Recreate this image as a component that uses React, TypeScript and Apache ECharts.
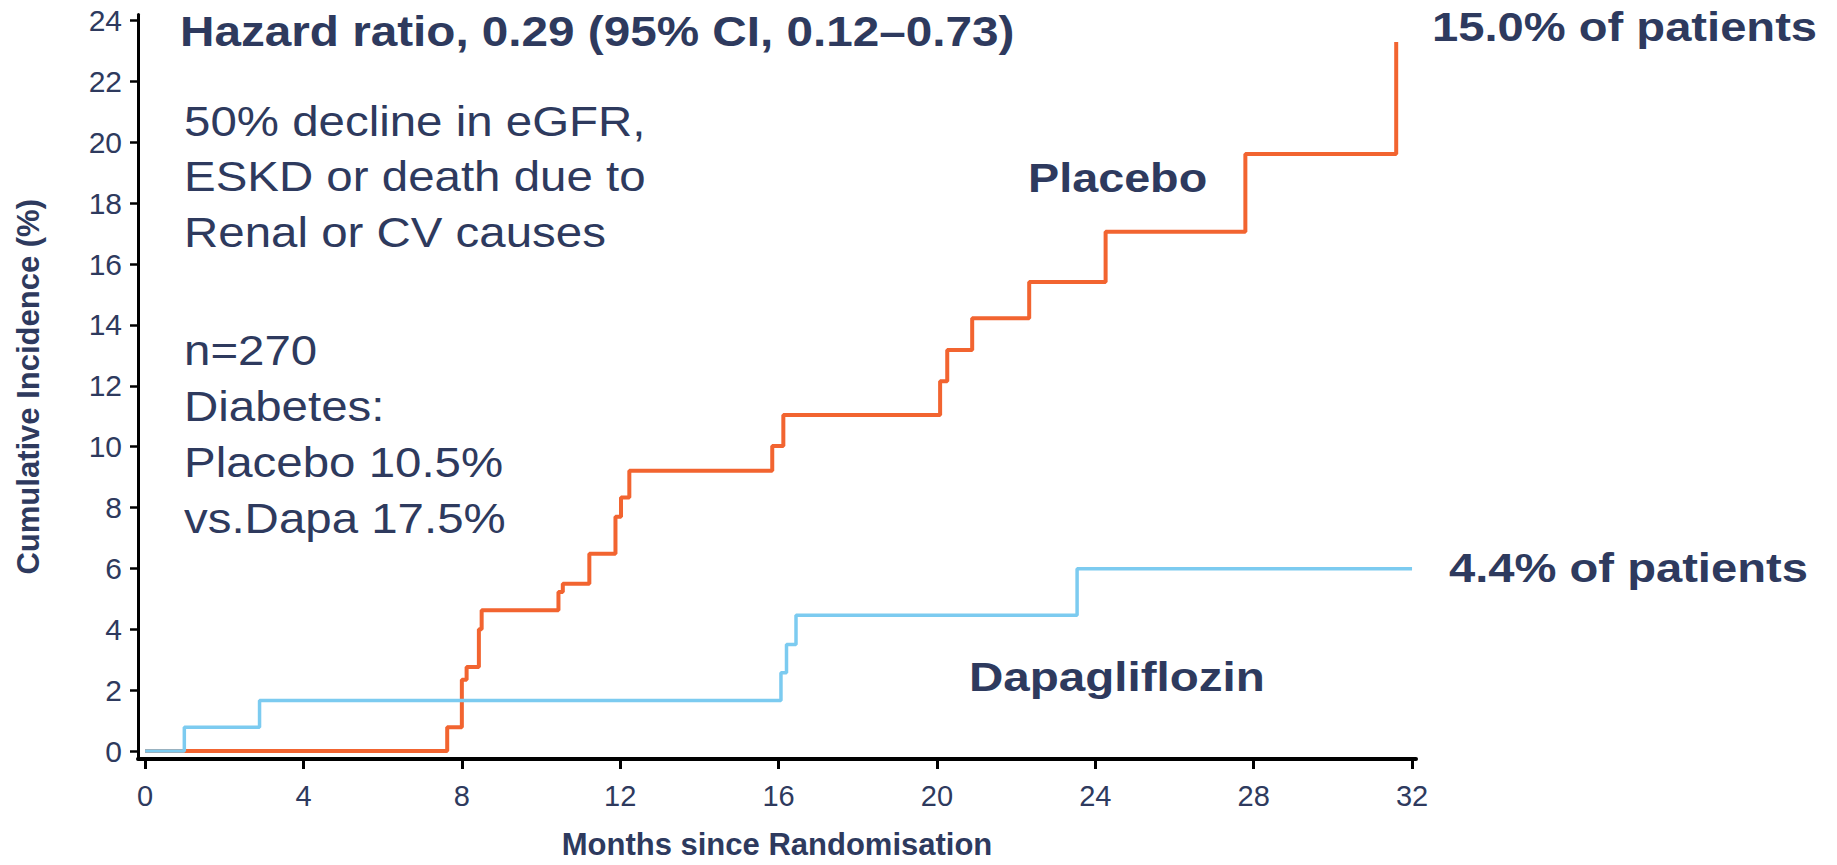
import React, { useEffect, useRef } from "react";
import * as echarts from "echarts";

// ---- data (months, cumulative incidence %) ----
const placeboTimes = [0, 7.63, 8.0, 8.12, 8.43, 8.5, 10.44, 10.55, 11.22, 11.88, 12.02, 12.23, 15.84, 16.12, 20.08, 20.26, 20.89, 22.33, 24.26, 27.79, 31.6];
const placeboValues = [0, 0.78, 2.34, 2.76, 4.0, 4.63, 5.23, 5.5, 6.48, 7.7, 8.33, 9.21, 10.02, 11.04, 12.15, 13.18, 14.22, 15.41, 17.06, 19.62, 23.3];
const dapaTimes = [0, 0.99, 2.89, 16.06, 16.2, 16.44, 23.54, 32];
const dapaValues = [0, 0.78, 1.66, 2.57, 3.5, 4.46, 5.99, 5.99];
const xTicks = [0, 4, 8, 12, 16, 20, 24, 28, 32];
const yTicks = [0, 2, 4, 6, 8, 10, 12, 14, 16, 18, 20, 22, 24];

const titleText = "Hazard ratio, 0.29 (95% CI, 0.12\u20130.73)";
const blockLines1 = ["50% decline in eGFR,", "ESKD or death due to", "Renal or CV causes"];
const blockLines2 = ["n=270", "Diabetes:", "Placebo 10.5%", "vs.Dapa 17.5%"];
const placeboLabel = "Placebo";
const dapaLabel = "Dapagliflozin";
const placeboEnd = "15.0% of patients";
const dapaEnd = "4.4% of patients";

const NAVY = "#2E3A5E";
const ORANGE = "#F26430";
const BLUE = "#7CCBF0";
const FONT = "'Liberation Sans', Arial, Helvetica, sans-serif";

function txt(text: string, x: number, y: number, size: number, bold: boolean, sx: number) {
  return {
    type: "text",
    x,
    y,
    scaleX: sx,
    scaleY: 1,
    z: 10,
    style: {
      text,
      fill: NAVY,
      fontSize: size,
      fontWeight: bold ? "bold" : "normal",
      fontFamily: FONT,
      align: "left",
      verticalAlign: "middle",
      textAlign: "left",
      textVerticalAlign: "middle",
    },
  };
}

export default function App() {
  const ref = useRef<HTMLDivElement>(null);
  useEffect(() => {
    document.body.style.margin = "0";
    if (!ref.current) return;
    const chart = echarts.init(ref.current, undefined, { renderer: "svg" });
    const graphics: any[] = [];
    graphics.push(txt(titleText, 180, 32, 42, true, 1.135));
    blockLines1.forEach((t, i) => graphics.push(txt(t, 184, 121 + i * 55.5, 42, false, 1.13)));
    blockLines2.forEach((t, i) => graphics.push(txt(t, 184, 350 + i * 56, 42, false, 1.13)));
    graphics.push(txt(placeboLabel, 1028, 178, 41, true, 1.14));
    graphics.push(txt(dapaLabel, 969, 677, 41, true, 1.16));
    graphics.push(txt(placeboEnd, 1432, 27, 41, true, 1.15));
    graphics.push(txt(dapaEnd, 1449, 568, 41, true, 1.15));

    chart.setOption({
      animation: false,
      backgroundColor: "#ffffff",
      grid: { left: 138, right: 421, top: 14.5, bottom: 102, containLabel: false },
      xAxis: {
        type: "value",
        min: -0.18,
        max: 32.1,
        name: "Months since Randomisation",
        nameLocation: "middle",
        nameGap: 70,
        nameTextStyle: { color: NAVY, fontSize: 31, fontWeight: "bold", fontFamily: FONT },
        axisLine: { show: true, onZero: false, lineStyle: { color: "#000", width: 4 } },
        axisTick: { show: true, length: 10, customValues: xTicks, lineStyle: { color: "#000", width: 3 } },
        axisLabel: { customValues: xTicks, color: NAVY, fontSize: 29, margin: 22, fontFamily: FONT },
        splitLine: { show: false },
      },
      yAxis: {
        type: "value",
        min: -0.26,
        max: 24.2,
        name: "Cumulative Incidence (%)",
        nameLocation: "middle",
        nameGap: 94,
        nameTextStyle: { color: NAVY, fontSize: 31, fontWeight: "bold", fontFamily: FONT },
        axisLine: { show: true, onZero: false, lineStyle: { color: "#000", width: 3 } },
        axisTick: { show: true, length: 8, customValues: yTicks, lineStyle: { color: "#000", width: 2.5 } },
        axisLabel: { customValues: yTicks, color: NAVY, fontSize: 30, margin: 16, fontFamily: FONT },
        splitLine: { show: false },
      },
      series: [
        {
          name: "Placebo",
          type: "line",
          step: "end",
          showSymbol: false,
          symbol: "none",
          data: placeboTimes.map((t, i) => [t, placeboValues[i]]),
          lineStyle: { color: ORANGE, width: 4 },
          z: 2,
        },
        {
          name: "Dapagliflozin",
          type: "line",
          step: "end",
          showSymbol: false,
          symbol: "none",
          data: dapaTimes.map((t, i) => [t, dapaValues[i]]),
          lineStyle: { color: BLUE, width: 3.5 },
          z: 3,
        },
      ],
      graphic: graphics,
    });
    return () => chart.dispose();
  }, []);
  return <div ref={ref} style={{ position: "fixed", left: 0, top: 0, width: 1837, height: 865 }} />;
}
